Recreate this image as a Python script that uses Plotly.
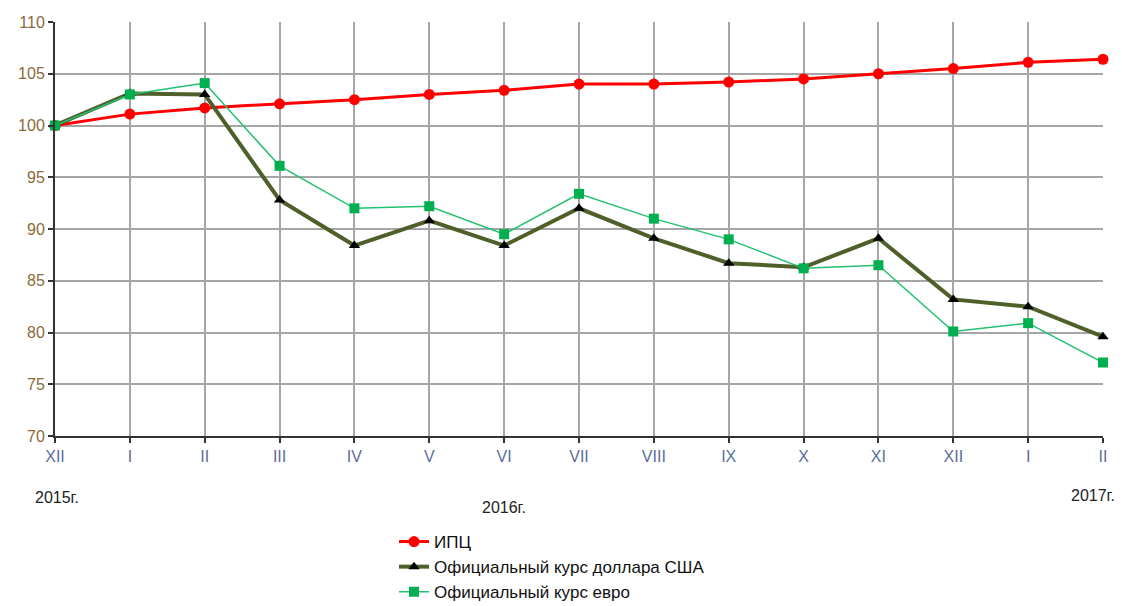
import plotly.graph_objects as go

months = ["XII", "I", "II", "III", "IV", "V", "VI", "VII", "VIII", "IX", "X", "XI", "XII", "I", "II"]
cpi = [100.0, 101.1, 101.7, 102.1, 102.5, 103.0, 103.4, 104.0, 104.0, 104.2, 104.5, 105.0, 105.5, 106.1, 106.4]
usd = [100.0, 103.1, 103.0, 92.8, 88.4, 90.8, 88.4, 92.0, 89.1, 86.7, 86.3, 89.1, 83.2, 82.5, 79.6]
eur = [100.0, 103.0, 104.1, 96.1, 92.0, 92.2, 89.5, 93.4, 91.0, 89.0, 86.2, 86.5, 80.1, 80.9, 77.1]
years = ["2015г.", "2016г.", "2017г."]
year_pos = [0, 6, 14]

xs = list(range(len(months)))

fig = go.Figure()
fig.add_trace(go.Scatter(x=xs, y=cpi, name="ИПЦ", mode="lines+markers",
                         line=dict(color="#ff0000", width=3),
                         marker=dict(symbol="circle", size=11, color="#ff0000"),
                         cliponaxis=False))
fig.add_trace(go.Scatter(x=xs, y=usd, name="Официальный курс доллара США", mode="lines+markers",
                         line=dict(color="#4f5f2a", width=4),
                         marker=dict(symbol="triangle-up", size=10, color="#000000"),
                         cliponaxis=False))
fig.add_trace(go.Scatter(x=xs, y=eur, name="Официальный курс евро", mode="lines+markers",
                         line=dict(color="#22c070", width=1.5),
                         marker=dict(symbol="square", size=10, color="#00b050"),
                         cliponaxis=False))

# page body has an 8px default margin; the div is sized to fit the window
W, H = 1114, 598
L, T = 47, 14
pw, ph = 1048, 414
R = W - L - pw
B = H - T - ph
bottom_px = T + ph

annos = []
ypx = [489, 500, 487]
xsh = [2, 0, -10]
for i, (txt, p) in enumerate(zip(years, year_pos)):
    annos.append(dict(x=p, xref="x", y=-(ypx[i] - bottom_px) / ph, yref="paper",
                      text=txt, showarrow=False, xanchor="center", yanchor="middle",
                      xshift=xsh[i],
                      font=dict(family="Liberation Sans, Arial", size=16, color="#222222")))

fig.update_layout(
    width=W, height=H,
    margin=dict(l=L, r=R, t=T, b=B, autoexpand=False),
    plot_bgcolor="white", paper_bgcolor="white",
    font=dict(family="Liberation Sans, Arial", size=15, color="#333333"),
    showlegend=True,
    legend=dict(x=(386 - L) / pw, xanchor="left", y=-(516 - bottom_px) / ph, yanchor="top",
                font=dict(size=17, color="#111111"), tracegroupgap=0,
                bgcolor="rgba(0,0,0,0)"),
    annotations=annos,
)
fig.update_xaxes(range=[0, 14], tickmode="array", tickvals=xs, ticktext=months,
                 showgrid=True, gridcolor="#a6a6a6", gridwidth=2,
                 showline=True, linecolor="#333333", linewidth=2,
                 ticks="outside", ticklen=5, tickcolor="#333333", tickwidth=2,
                 tickfont=dict(size=16, color="#5a6e9a"), zeroline=False)
fig.update_yaxes(range=[70, 110], dtick=5,
                 showgrid=True, gridcolor="#a6a6a6", gridwidth=2,
                 showline=True, linecolor="#333333", linewidth=2,
                 ticks="outside", ticklen=5, tickcolor="#333333", tickwidth=2,
                 tickfont=dict(size=16, color="#8a6a3a"), zeroline=False)

fig.write_html("out.html")
